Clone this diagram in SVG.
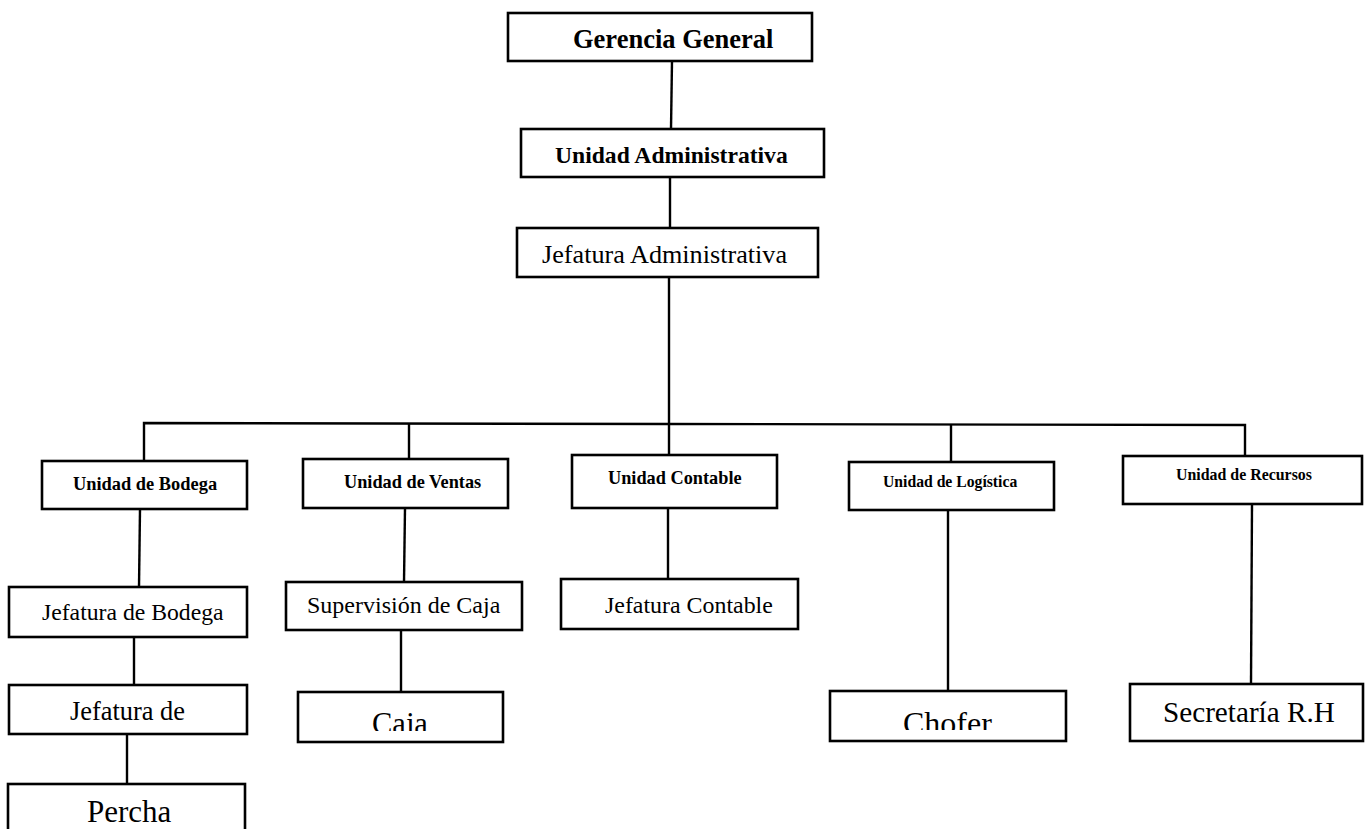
<svg xmlns="http://www.w3.org/2000/svg" width="1365" height="829" viewBox="0 0 1365 829">
<style>
.box{fill:#fff;stroke:#000;stroke-width:2.6}
.ln{fill:none;stroke:#000;stroke-width:2.4}
text{font-family:"Liberation Serif","Times New Roman",serif;fill:#000}
.b{font-weight:bold}
</style>
<defs>
<clipPath id="clipCaja"><rect x="290" y="690" width="220" height="41"/></clipPath>
<clipPath id="clipChofer"><rect x="825" y="690" width="245" height="40"/></clipPath>
</defs>
<rect x="0" y="0" width="1365" height="829" fill="#fff"/>
<g id="connectors">
<line class="ln" x1="672" y1="61" x2="671" y2="129"/>
<line class="ln" x1="670" y1="177" x2="670" y2="228"/>
<line class="ln" x1="669" y1="277" x2="669" y2="455"/>
<polyline class="ln" points="144,461 144,423 669,424 1245,425 1245,456"/>
<line class="ln" x1="409" y1="423.5" x2="409" y2="459"/>
<line class="ln" x1="951" y1="424.5" x2="951" y2="462"/>
<line class="ln" x1="140" y1="509" x2="139" y2="587"/>
<line class="ln" x1="405" y1="508" x2="404" y2="582"/>
<line class="ln" x1="668" y1="508" x2="668" y2="583"/>
<line class="ln" x1="948" y1="510" x2="948" y2="691"/>
<line class="ln" x1="1252" y1="504" x2="1251" y2="684"/>
<line class="ln" x1="134" y1="637" x2="134" y2="685"/>
<line class="ln" x1="127" y1="734" x2="127" y2="784"/>
<line class="ln" x1="401" y1="630" x2="401" y2="692"/>
</g>
<g id="gerencia">
<rect class="box" x="508" y="13" width="304" height="48"/>
<text class="b" x="573" y="48" font-size="26.5">Gerencia General</text>
</g>
<g id="unidad-administrativa">
<rect class="box" x="521" y="129" width="303" height="48"/>
<text class="b" x="555" y="163" font-size="23.6">Unidad Administrativa</text>
</g>
<g id="jefatura-administrativa">
<rect class="box" x="517" y="228" width="301" height="49"/>
<text x="542" y="263" font-size="26.2">Jefatura Administrativa</text>
</g>
<g id="unidad-bodega">
<rect class="box" x="42" y="461" width="205" height="48"/>
<text class="b" x="73" y="490" font-size="18.4">Unidad de Bodega</text>
</g>
<g id="unidad-ventas">
<rect class="box" x="303" y="459" width="205" height="49"/>
<text class="b" x="344" y="488" font-size="18.3">Unidad de Ventas</text>
</g>
<g id="unidad-contable">
<rect class="box" x="572" y="455" width="205" height="53"/>
<text class="b" x="608" y="484" font-size="18.3">Unidad Contable</text>
</g>
<g id="unidad-logistica">
<rect class="box" x="849" y="462" width="205" height="48"/>
<text class="b" x="883" y="487" font-size="15.7">Unidad de Logística</text>
</g>
<g id="unidad-recursos">
<rect class="box" x="1123" y="456" width="239" height="48"/>
<text class="b" x="1176" y="480" font-size="15.9">Unidad de Recursos</text>
</g>
<g id="jefatura-bodega">
<rect class="box" x="9" y="587" width="238" height="50"/>
<text x="42" y="620" font-size="23.7">Jefatura de Bodega</text>
</g>
<g id="jefatura-de">
<rect class="box" x="9" y="685" width="238" height="49"/>
<text x="70" y="720" font-size="26.4">Jefatura de</text>
</g>
<g id="percha">
<rect class="box" x="8" y="784" width="237" height="60"/>
<text x="87" y="822" font-size="31">Percha</text>
</g>
<g id="supervision-caja">
<rect class="box" x="286" y="582" width="236" height="48"/>
<text x="307" y="613" font-size="24">Supervisión de Caja</text>
</g>
<g id="caja">
<rect class="box" x="298" y="692" width="205" height="50"/>
<text x="372" y="734" font-size="30.5" clip-path="url(#clipCaja)">Caja</text>
</g>
<g id="jefatura-contable">
<rect class="box" x="561" y="579" width="237" height="50"/>
<text x="605" y="613" font-size="23.9">Jefatura Contable</text>
</g>
<g id="chofer">
<rect class="box" x="830" y="691" width="236" height="50"/>
<text x="903" y="734" font-size="32" clip-path="url(#clipChofer)">Chofer</text>
</g>
<g id="secretaria">
<rect class="box" x="1130" y="684" width="233" height="57"/>
<text x="1163" y="722" font-size="29.2">Secretaría R.H</text>
</g>
</svg>
